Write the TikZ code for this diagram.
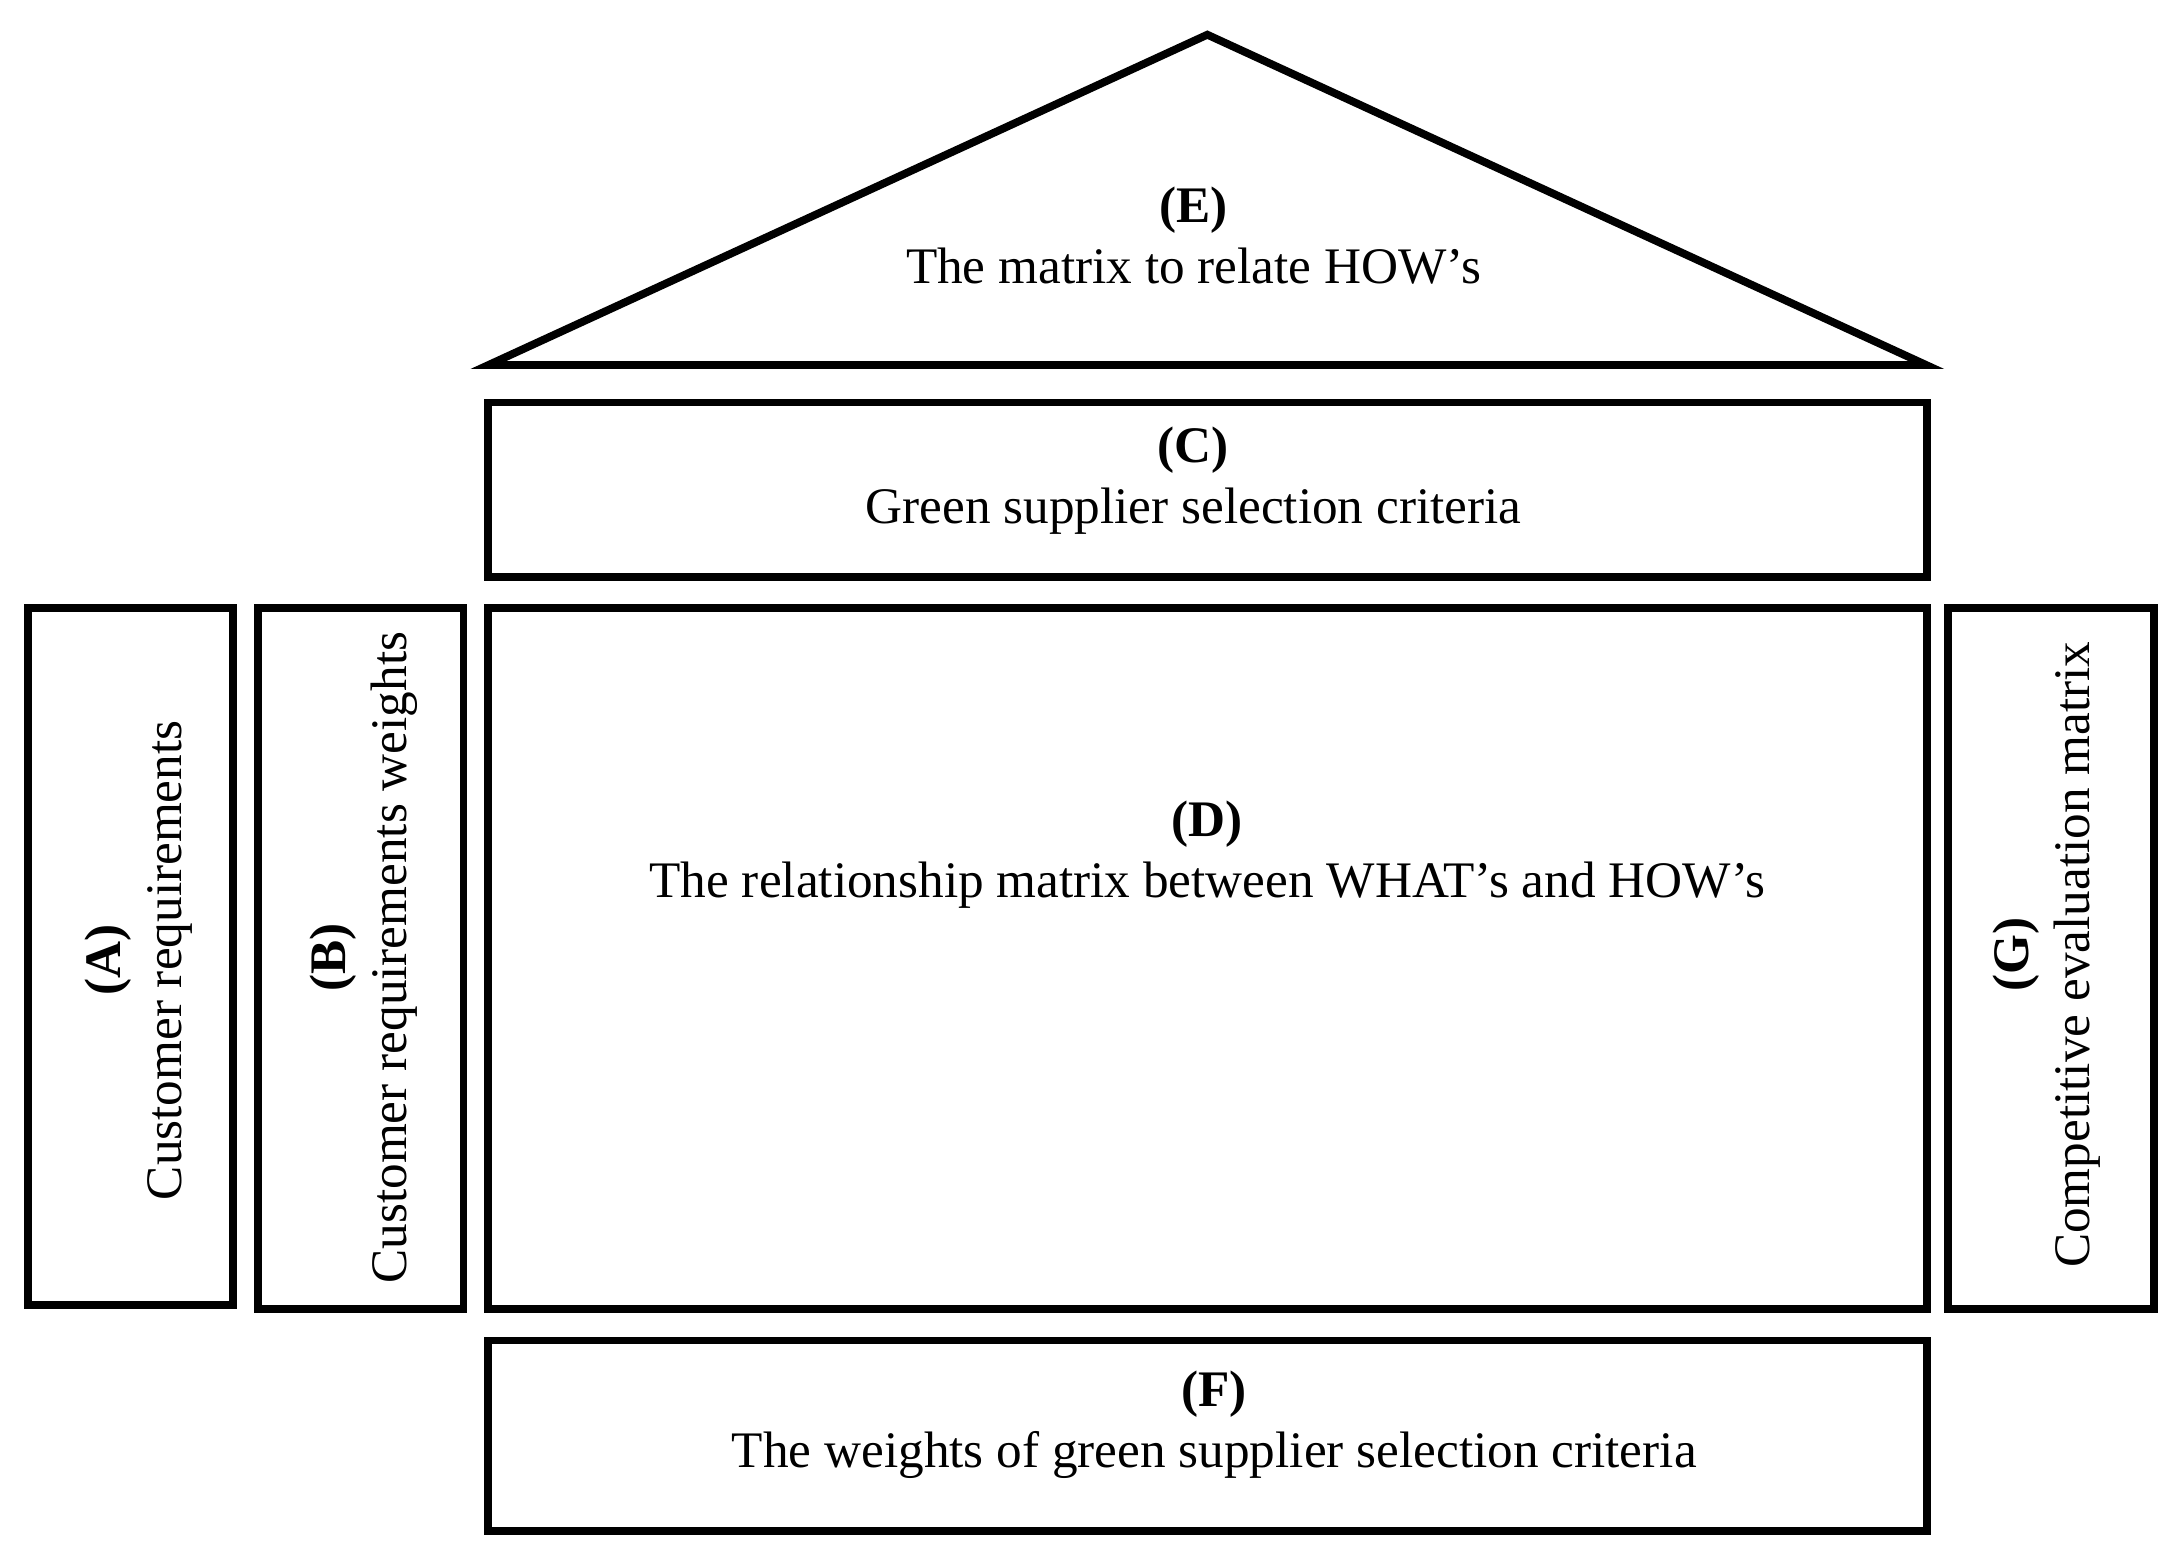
\documentclass[tikz,border=0pt]{standalone}
\usepackage{fontspec}
\setmainfont{Liberation Serif}
\begin{document}
\begin{tikzpicture}[x=0.01cm,y=-0.01cm]
\tikzstyle{part}=[draw, line width=1.6pt, rectangle, inner sep=0pt]
\tikzstyle{label}=[align=center, font=\fontsize{10.5}{12.5}\selectfont]
\useasboundingbox (0,0) rectangle (1568,1120);

% Roof
\draw[line width=1.6pt, line join=miter] (352,263) -- (870,25) -- (1388,263) -- cycle;
\node[label] (roof) at (860,170) {\textbf{(E)}\\The matrix to relate HOW's};

% Rooms
\node[part, minimum width=10.36cm, minimum height=1.26cm] (how) at (870,353) {};
\node[part, minimum width=10.36cm, minimum height=5.05cm] (rel) at (870,690.5) {};
\node[part, minimum width=10.36cm, minimum height=1.37cm] (wgt) at (870,1034.5) {};
\node[part, minimum width=1.48cm, minimum height=5.02cm] (cust) at (94,689) {};
\node[part, minimum width=1.48cm, minimum height=5.05cm] (cw) at (260,690.5) {};
\node[part, minimum width=1.48cm, minimum height=5.05cm] (comp) at (1478,690.5) {};

% Labels
\node[label] at (860,346) {\textbf{(C)}\\Green supplier selection criteria};
\node[label] at (870,616) {\textbf{(D)}\\The relationship matrix between WHAT's and HOW's};
\node[label] at (875,1027) {\textbf{(F)}\\The weights of green supplier selection criteria};
\node[label, rotate=90] at (100,692) {\textbf{(A)}\\Customer requirements};
\node[label, rotate=90] at (262,690) {\textbf{(B)}\\Customer requirements weights};
\node[label, rotate=90] at (1475,688) {\textbf{(G)}\\Competitive evaluation matrix};
\end{tikzpicture}
\end{document}
